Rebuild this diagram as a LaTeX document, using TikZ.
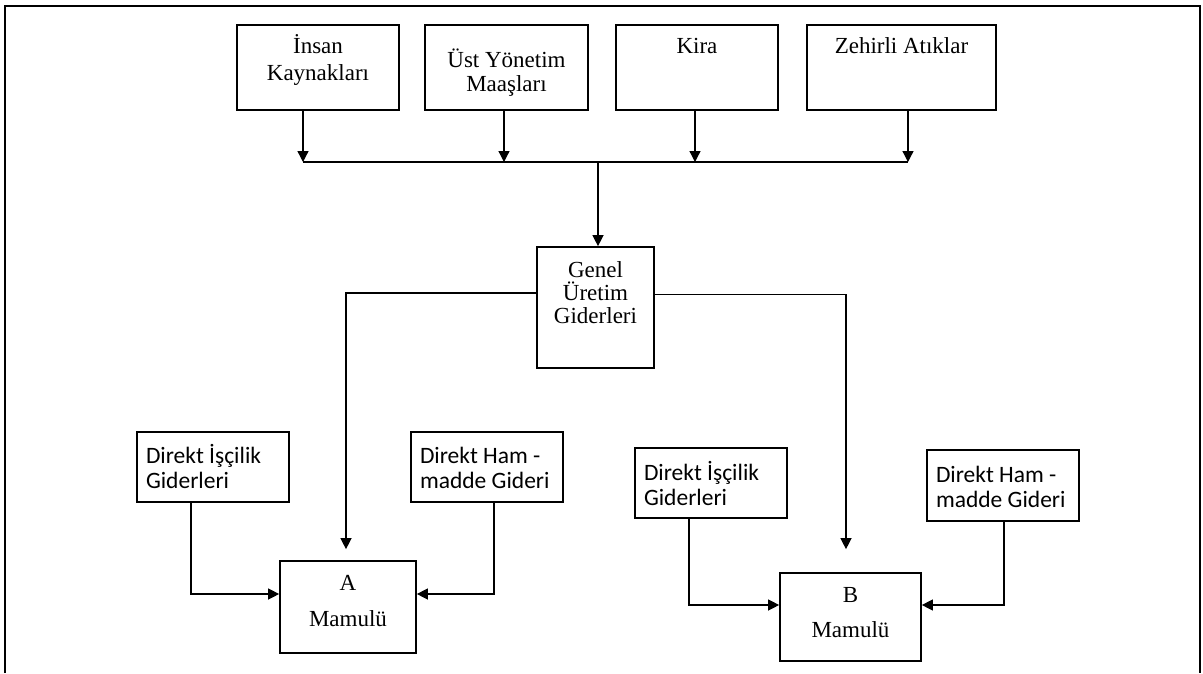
\documentclass[tikz,border=0pt]{standalone}
\usepackage{fontspec}
\setmainfont{Liberation Serif}
\newfontfamily\calibri{Carlito}
\usetikzlibrary{arrows.meta,positioning}
\tikzstyle{block} = [draw, rectangle, line width=1.7pt, inner xsep=4pt, inner ysep=0pt,
    align=flush center, font=\fontsize{23}{25}\selectfont]
\tikzstyle{sans} = [block, inner xsep=9pt, align=flush left, font=\calibri\fontsize{23.5}{25}\selectfont]
\tikzstyle{line} = [draw, line width=1.3pt]
\tikzstyle{arr} = [line, -{Triangle[length=11pt,width=11pt]}]

\begin{document}
\begin{tikzpicture}[x=1pt, y=-1pt]
  \useasboundingbox[fill=white] (0,0) rectangle (1203,673);
  \draw[line width=2.5pt] (5,673) -- (5,6) -- (1200,6) -- (1200,673);
  % top row
  \node [block, text width=154pt, text height=28pt, text depth=57pt] (ik) at (318,67.5)
  {İnsan\\[2pt]Kaynakları};
  \node [block, text width=155pt, text height=42pt, text depth=43pt, right of=ik, node distance=188.5pt] (uy)
  {Üst Yönetim\\[-1pt]Maaşları};
  \node [block, text width=154pt, text height=28pt, text depth=57pt, right of=uy, node distance=190.5pt] (kira) {Kira};
  \node [block, text width=181pt, text height=28pt, text depth=57pt, right of=kira, node distance=204.5pt] (za) {Zehirli Atıklar};
  \node [block, text width=109pt, text height=30pt, text depth=91pt] (gug) at (595.5,307.5)
  {Genel\\[-2pt]Üretim\\[-2pt]Giderleri};
  % products
  \node [block, text width=128pt, text height=29pt, text depth=63pt] (am) at (348,607) {A\\[11pt]Mamulü};
  \node [block, text width=133pt, text height=29pt, text depth=59pt] (bm) at (850.5,617) {B\\[10pt]Mamulü};
  \node [sans, text width=134pt, text height=31pt, text depth=39pt] (dia) at (213,467) {Direkt İşçilik\\Giderleri};
  \node [sans, text width=134pt, text height=31pt, text depth=39pt] (dha) at (487,467) {Direkt Ham -\\madde Gideri};
  \node [sans, text width=134pt, text height=32pt, text depth=38pt] (dib) at (711,483) {Direkt İşçilik\\Giderleri};
  \node [sans, text width=134pt, text height=32pt, text depth=39pt] (dhb) at (1003,485.5) {Direkt Ham -\\madde Gideri};
  % connectors
  \coordinate (bus) at (598,162);
  \draw[arr] ([xshift=-15pt]ik.south) -- ([xshift=-15pt]ik.south |- bus);
  \draw[arr] ([xshift=-2.5pt]uy.south) -- ([xshift=-2.5pt]uy.south |- bus);
  \draw[arr] ([xshift=-2pt]kira.south) -- ([xshift=-2pt]kira.south |- bus);
  \draw[arr] ([xshift=6.5pt]za.south) -- ([xshift=6.5pt]za.south |- bus);
  \draw[line] ([xshift=-15pt]ik.south |- bus) -- ([xshift=6.5pt]za.south |- bus);
  \draw[arr] (bus) -- (bus |- gug.north);
  \draw[arr, shorten >=11pt] ([yshift=14.5pt]gug.west) -| ([xshift=-2pt]am.north);
  \draw[arr, shorten >=23pt] ([yshift=13pt]gug.east) -| ([xshift=-4.5pt]bm.north);
  \draw[arr] ([xshift=-22pt]dia.south) |- ([yshift=13pt]am.west);
  \draw[arr] ([xshift=7pt]dha.south) |- ([yshift=13pt]am.east);
  \draw[arr] ([xshift=-22pt]dib.south) |- ([yshift=12pt]bm.west);
  \draw[arr] ([xshift=1pt]dhb.south) |- ([yshift=12pt]bm.east);
\end{tikzpicture}
\end{document}
